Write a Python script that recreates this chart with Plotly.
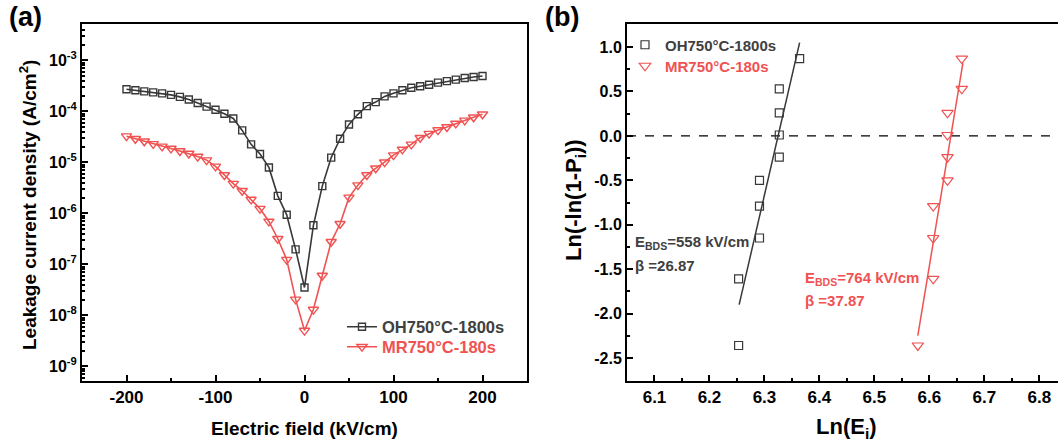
import plotly.graph_objects as go

# ---------------- data: panel (a) ----------------
field_kv = [-200, -190, -180, -170, -160, -150, -140, -130, -120, -110, -100,
            -90, -80, -70, -60, -50, -40, -30, -20, -10, 0,
            10, 20, 30, 40, 50, 60, 70, 80, 90, 100,
            110, 120, 130, 140, 150, 160, 170, 180, 190, 200]
j_oh = [2.69e-4, 2.57e-4, 2.45e-4, 2.34e-4, 2.24e-4, 2.09e-4, 1.91e-4, 1.70e-4, 1.45e-4, 1.23e-4, 1.07e-4,
        8.9e-5, 7.2e-5, 4.2e-5, 2.24e-5, 1.45e-5, 7.9e-6, 2.19e-6, 9.3e-7, 1.95e-7, 3.5e-8,
        5.8e-7, 3.4e-6, 1.23e-5, 2.88e-5, 5.5e-5, 8.7e-5, 1.26e-4, 1.51e-4, 1.95e-4, 2.24e-4,
        2.57e-4, 2.88e-4, 3.09e-4, 3.31e-4, 3.63e-4, 3.89e-4, 4.17e-4, 4.47e-4, 4.68e-4, 4.90e-4]
j_mr = [3.24e-5, 2.88e-5, 2.57e-5, 2.29e-5, 2.04e-5, 1.86e-5, 1.66e-5, 1.48e-5, 1.29e-5, 1.10e-5, 8.3e-6,
        5.6e-6, 3.8e-6, 2.75e-6, 1.86e-6, 1.23e-6, 6.9e-7, 3.16e-7, 1.23e-7, 2.04e-8, 5.0e-9,
        1.29e-8, 6.0e-8, 2.75e-7, 6.2e-7, 2.04e-6, 3.55e-6, 5.6e-6, 7.6e-6, 1.0e-5, 1.38e-5,
        1.78e-5, 2.24e-5, 3.02e-5, 3.63e-5, 4.27e-5, 4.9e-5, 5.75e-5, 6.6e-5, 7.6e-5, 8.7e-5]
ytick_vals_a = [1e-9, 1e-8, 1e-7, 1e-6, 1e-5, 1e-4, 1e-3]
ytick_text_a = ["10<sup>-9</sup>", "10<sup>-8</sup>", "10<sup>-7</sup>", "10<sup>-6</sup>",
                "10<sup>-5</sup>", "10<sup>-4</sup>", "10<sup>-3</sup>"]
xtick_vals_a = [-200, -100, 0, 100, 200]
xtick_text_a = ["-200", "-100", "0", "100", "200"]

# ---------------- data: panel (b) ----------------
ln_e_oh = [6.253, 6.253, 6.291, 6.291, 6.291, 6.327, 6.327, 6.327, 6.327, 6.364]
ln_e_mr = [6.579, 6.607, 6.607, 6.607, 6.633, 6.633, 6.633, 6.633, 6.659, 6.659]
weib_y = [-2.36, -1.61, -1.15, -0.79, -0.50, -0.24, 0.01, 0.26, 0.53, 0.87]
fit_oh_x = [6.254, 6.364]
fit_oh_y = [-1.90, 1.05]
fit_mr_x = [6.579, 6.661]
fit_mr_y = [-2.25, 0.82]
xtick_vals_b = [6.1, 6.2, 6.3, 6.4, 6.5, 6.6, 6.7, 6.8]
ytick_vals_b = [-2.5, -2.0, -1.5, -1.0, -0.5, 0.0, 0.5, 1.0]

BLK = "#383838"
RED = "#f05252"
FONT = "Liberation Sans, Arial, sans-serif"

fig = go.Figure()

# panel (a)
fig.add_trace(go.Scatter(x=field_kv, y=j_oh, mode="lines+markers",
                         name="OH750°C-1800s", legend="legend",
                         line=dict(color=BLK, width=1.6),
                         marker=dict(symbol="square-open", size=7, color=BLK, line=dict(width=1.4)),
                         xaxis="x", yaxis="y"))
fig.add_trace(go.Scatter(x=field_kv, y=j_mr, mode="lines+markers",
                         name="MR750°C-180s", legend="legend3",
                         line=dict(color=RED, width=1.6),
                         marker=dict(symbol="triangle-down-open", size=9, color=RED, line=dict(width=1.4)),
                         xaxis="x", yaxis="y"))

# panel (b)
fig.add_trace(go.Scatter(x=ln_e_oh, y=weib_y, mode="markers",
                         name="OH750°C-1800s", legend="legend2",
                         marker=dict(symbol="square-open", size=8, color=BLK, line=dict(width=1.2)),
                         xaxis="x2", yaxis="y2"))
fig.add_trace(go.Scatter(x=ln_e_mr, y=weib_y, mode="markers",
                         name="MR750°C-180s", legend="legend4",
                         marker=dict(symbol="triangle-down-open", size=10, color=RED, line=dict(width=1.2)),
                         xaxis="x2", yaxis="y2"))
fig.add_trace(go.Scatter(x=fit_oh_x, y=fit_oh_y, mode="lines", showlegend=False,
                         line=dict(color=BLK, width=1.5), xaxis="x2", yaxis="y2"))
fig.add_trace(go.Scatter(x=fit_mr_x, y=fit_mr_y, mode="lines", showlegend=False,
                         line=dict(color=RED, width=1.5), xaxis="x2", yaxis="y2"))

W, H = 1058, 442
ytop = 1 - 24 / H
ybot = 1 - 381 / H

minor_log = [m * 10.0 ** e for e in range(-10, -1) for m in range(2, 10)]


def axis_common(size):
    return dict(showline=True, linecolor="black", linewidth=2, ticks="inside",
                tickcolor="black", tickwidth=2, ticklen=6, showgrid=False, zeroline=False,
                tickfont=dict(family=FONT, size=size, color="black", weight="bold"))


def leg(x, y, color, size):
    return dict(x=x / W, y=1 - y / H, xanchor="left", yanchor="middle",
                bgcolor="rgba(0,0,0,0)", itemwidth=30,
                font=dict(family=FONT, size=size, color=color, weight="bold"))


fig.update_layout(
    width=W, height=H, margin=dict(l=0, r=0, t=0, b=0),
    paper_bgcolor="white", plot_bgcolor="white",
    font=dict(family=FONT, color="black"),
    xaxis=dict(domain=[82 / W, 527 / W], range=[-250, 250], tickvals=xtick_vals_a,
               ticktext=xtick_text_a, mirror=True, anchor="y",
               minor=dict(tickvals=[-150, -50, 50, 150], ticks="inside", ticklen=3,
                          tickwidth=2, tickcolor="black"),
               **axis_common(17)),
    yaxis=dict(domain=[ybot, ytop], type="log", range=[-9.29, -2.29],
               tickvals=ytick_vals_a, ticktext=ytick_text_a, mirror=True, anchor="x",
               minor=dict(tickvals=minor_log, ticks="inside", ticklen=3, tickwidth=1.5,
                          tickcolor="black"),
               **axis_common(16)),
    xaxis2=dict(domain=[627 / W, 1.0], range=[6.05, 6.834],
                tickvals=xtick_vals_b, ticktext=[f"{v:.1f}" for v in xtick_vals_b],
                mirror=True, anchor="y2",
                minor=dict(tickvals=[6.15, 6.25, 6.35, 6.45, 6.55, 6.65, 6.75], ticks="inside",
                           ticklen=3, tickwidth=2, tickcolor="black"),
                **axis_common(17)),
    yaxis2=dict(domain=[ybot, ytop], range=[-2.76, 1.26],
                tickvals=ytick_vals_b, ticktext=[f"{v:.1f}" for v in ytick_vals_b],
                anchor="x2",
                minor=dict(tickvals=[-2.25, -1.75, -1.25, -0.75, -0.25, 0.25, 0.75], ticks="inside",
                           ticklen=3, tickwidth=2, tickcolor="black"),
                **axis_common(16)),
    legend=leg(342, 327, "#404040", 16.5),
    legend3=leg(342, 347, RED, 16.5),
    legend2=leg(625, 45, "#404040", 15),
    legend4=leg(625, 66, RED, 15),
)

# dashed reference line at y = 0 in panel (b)
fig.add_shape(type="line", xref="x2 domain", yref="y2", x0=0, x1=1, y0=0, y1=0,
              line=dict(color="black", width=1.3, dash="dash"), layer="below")

ann_font = dict(family=FONT, size=15, weight="bold")
annotations = [
    dict(text="(a)", x=7 / W, y=1 - 17 / H, xanchor="left", yanchor="middle",
         font=dict(family=FONT, size=27, color="black", weight="bold")),
    dict(text="(b)", x=543 / W, y=1 - 17 / H, xanchor="left", yanchor="middle",
         font=dict(family=FONT, size=27, color="black", weight="bold")),
    dict(text="Leakage current density (A/cm<sup>2</sup>)", x=28 / W, y=1 - 205 / H,
         xanchor="center", yanchor="middle", textangle=-90,
         font=dict(family=FONT, size=19, color="black", weight="bold")),
    dict(text="Electric field (kV/cm)", x=304 / W, y=1 - 428 / H, xanchor="center", yanchor="middle",
         font=dict(family=FONT, size=19, color="black", weight="bold")),
    dict(text="Ln(-ln(1-P<sub>i</sub>))", x=575 / W, y=1 - 200 / H, xanchor="center", yanchor="middle",
         textangle=-90, font=dict(family=FONT, size=22, color="black", weight="bold")),
    dict(text="Ln(E<sub>i</sub>)", x=846 / W, y=1 - 428 / H, xanchor="center", yanchor="middle",
         font=dict(family=FONT, size=22, color="black", weight="bold")),
    dict(text="E<sub>BDS</sub>=558 kV/cm", x=633 / W, y=1 - 242 / H, xanchor="left", yanchor="middle",
         font=dict(color="#404040", **ann_font)),
    dict(text="β =26.87", x=633 / W, y=1 - 265 / H, xanchor="left", yanchor="middle",
         font=dict(color="#404040", **ann_font)),
    dict(text="E<sub>BDS</sub>=764 kV/cm", x=803 / W, y=1 - 278 / H, xanchor="left", yanchor="middle",
         font=dict(color=RED, **ann_font)),
    dict(text="β =37.87", x=803 / W, y=1 - 300 / H, xanchor="left", yanchor="middle",
         font=dict(color=RED, **ann_font)),
]
for a in annotations:
    fig.add_annotation(xref="paper", yref="paper", showarrow=False, **a)

# remove the default page margin so the figure fills the 1058x442 window exactly
fig.write_html("out.html", config={"displayModeBar": False},
               post_script="document.body.style.margin='0px';document.body.style.overflow='hidden';")
